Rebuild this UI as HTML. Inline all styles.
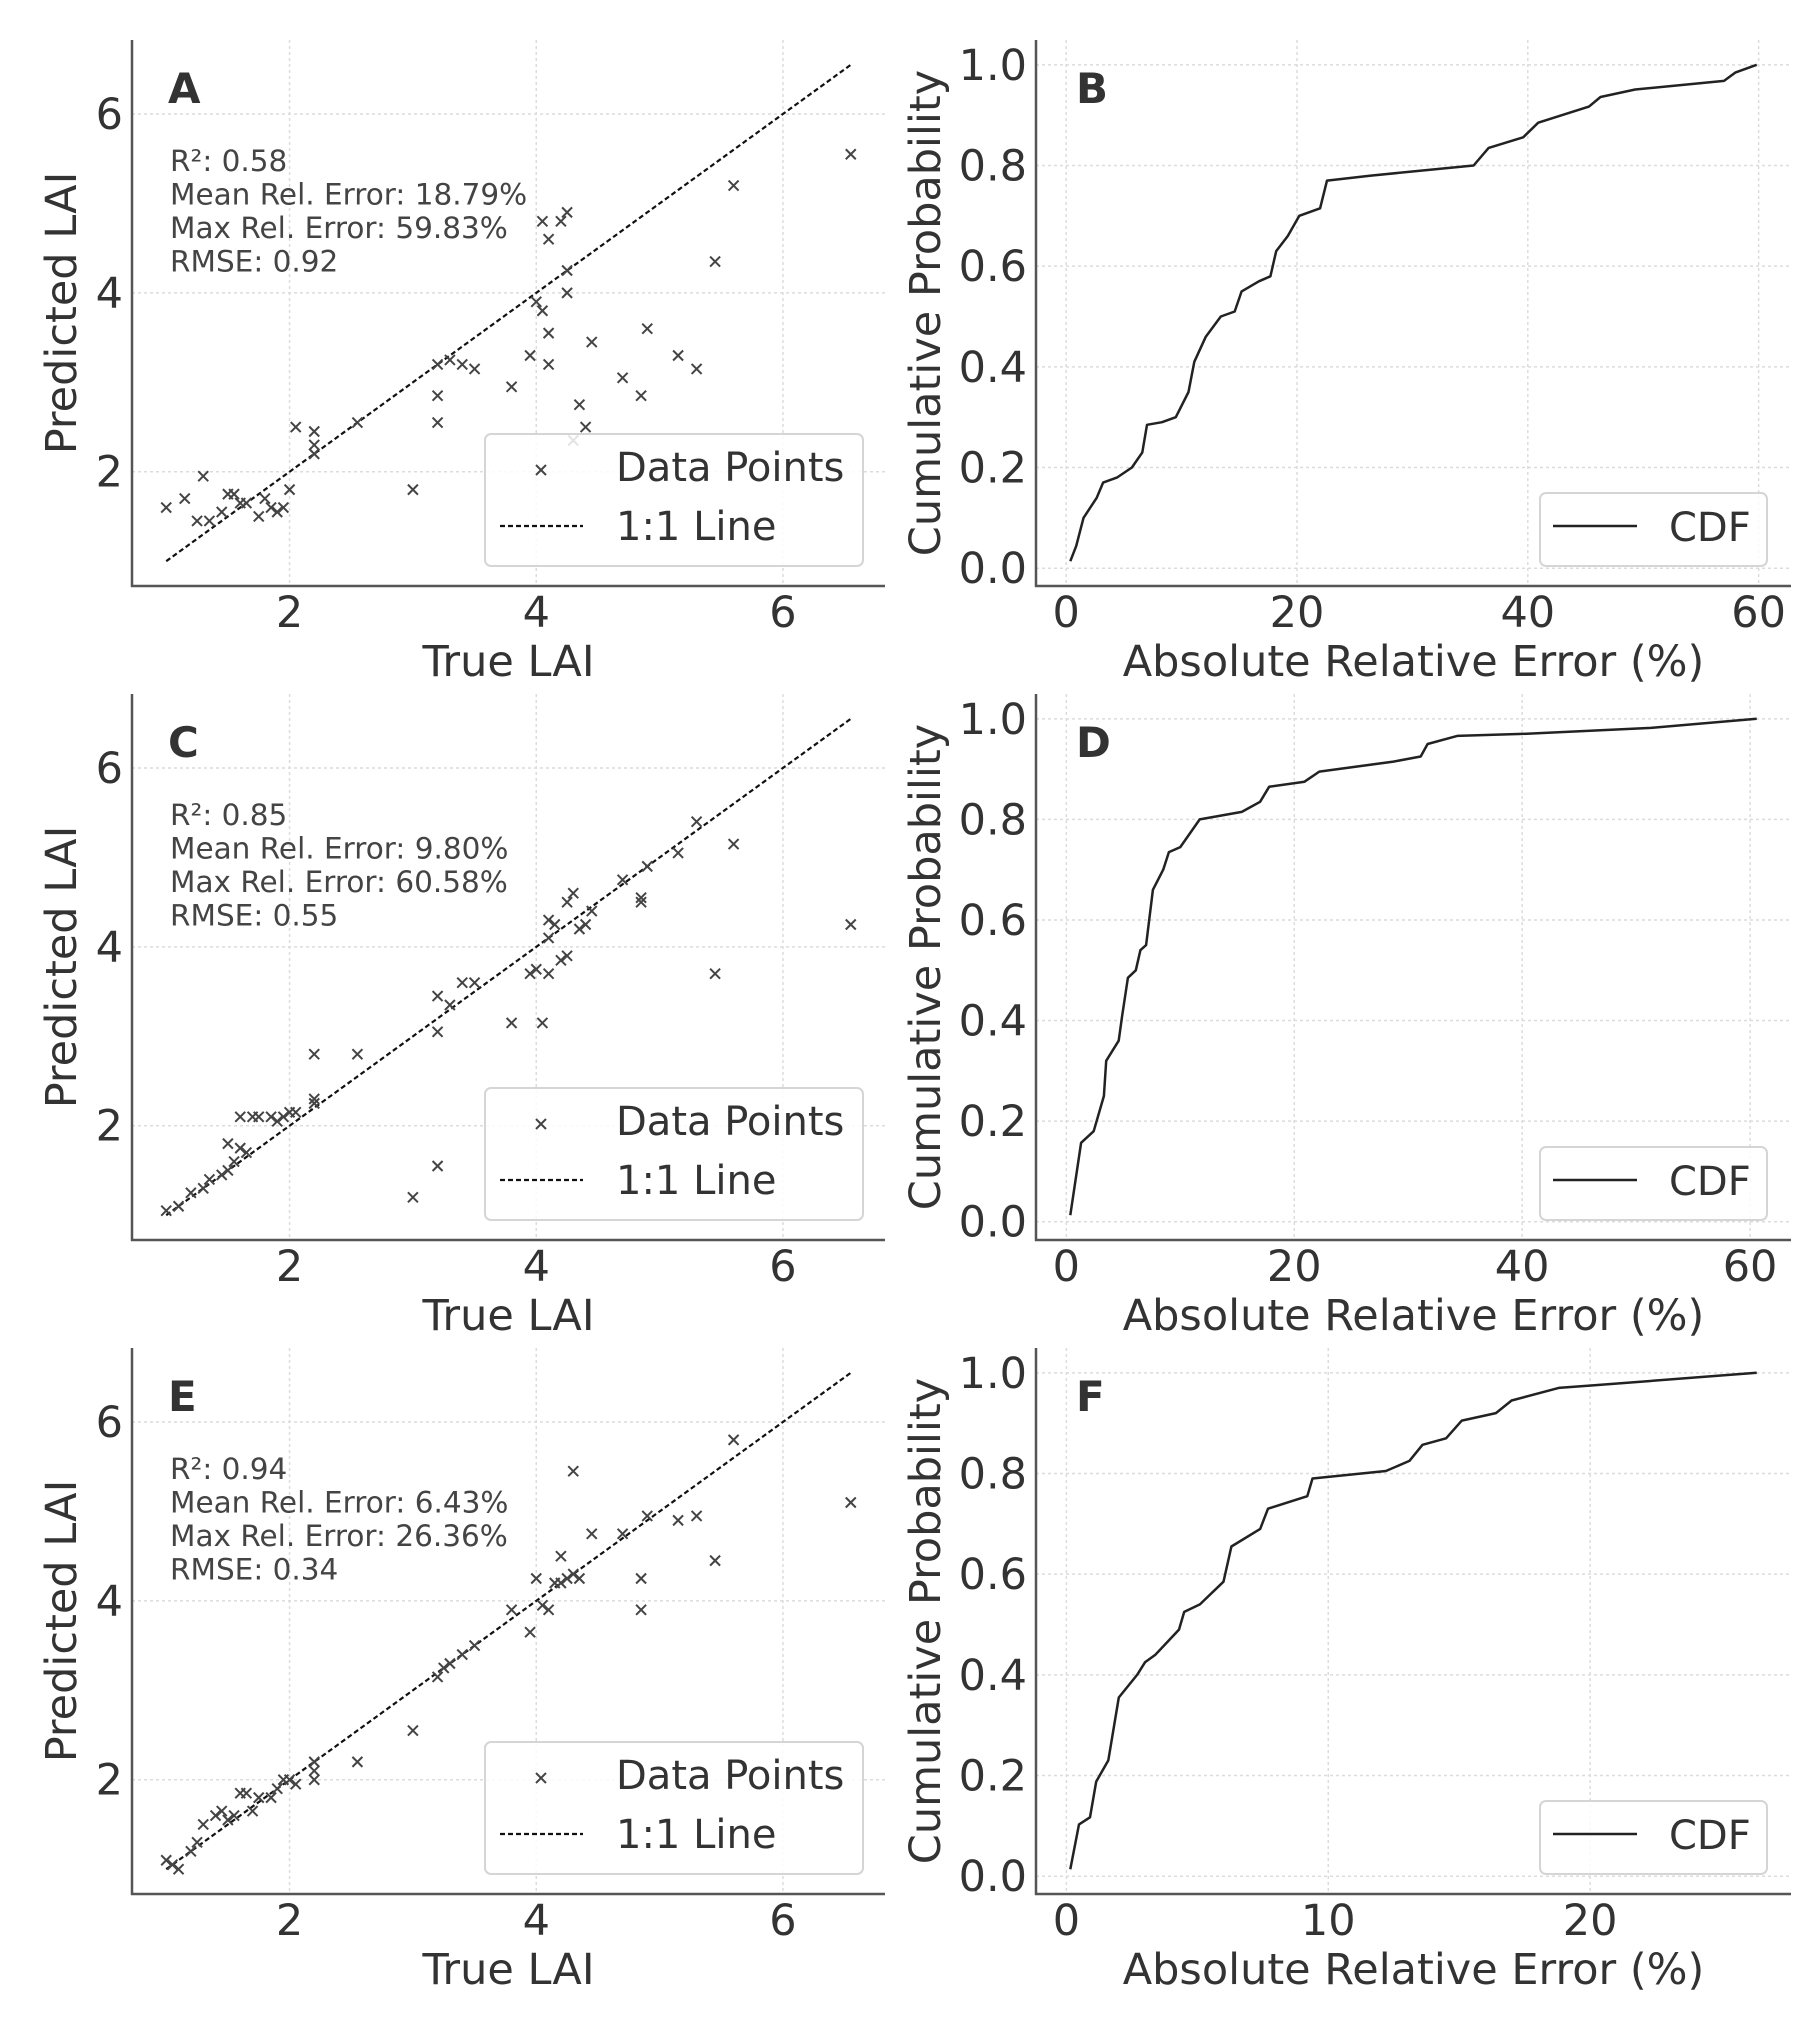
<!DOCTYPE html>
<html><head><meta charset="utf-8"><style>
html,body{margin:0;padding:0;background:#fff;}
svg{display:block;font-family:"DejaVu Sans","Liberation Sans",sans-serif;}
</style></head><body>
<svg id="fig" width="1819" height="2026" viewBox="0 0 1819 2026" xmlns="http://www.w3.org/2000/svg"></svg>
<script>
// ---- data ----
const aTrue=[1.0,1.15,1.3,1.25,1.35,1.45,1.5,1.55,1.6,1.65,1.75,1.8,1.85,1.9,1.95,2.0,2.05,2.2,2.2,2.2,2.55,3.0,3.2,3.2,3.2,3.3,3.4,3.5,3.8,3.95,4.0,4.05,4.1,4.1,4.05,4.1,4.2,4.25,4.25,4.25,4.3,4.35,4.4,4.45,4.7,4.85,4.9,5.15,5.3,5.45,5.6,6.55];
const aPred=[1.6,1.7,1.95,1.45,1.45,1.55,1.75,1.75,1.65,1.65,1.5,1.7,1.6,1.55,1.6,1.8,2.5,2.45,2.3,2.2,2.55,1.8,3.2,2.85,2.55,3.25,3.2,3.15,2.95,3.3,3.9,3.8,3.2,3.55,4.8,4.6,4.8,4.9,4.25,4.0,2.35,2.75,2.5,3.45,3.05,2.85,3.6,3.3,3.15,4.35,5.2,5.55];
const cTrue=[1.0,1.1,1.2,1.3,1.35,1.45,1.5,1.55,1.5,1.6,1.65,1.6,1.7,1.75,1.85,1.9,1.95,2.0,2.05,2.2,2.2,2.2,2.55,3.0,3.2,3.2,3.2,3.3,3.4,3.5,3.8,3.95,4.0,4.05,4.1,4.1,4.1,4.15,4.2,4.25,4.25,4.3,4.35,4.4,4.45,4.7,4.85,4.85,4.9,5.15,5.3,5.45,5.6,6.55];
const cPred=[1.05,1.1,1.25,1.3,1.4,1.45,1.5,1.6,1.8,1.75,1.7,2.1,2.1,2.1,2.1,2.05,2.1,2.15,2.15,2.25,2.3,2.8,2.8,1.2,1.55,3.05,3.45,3.35,3.6,3.6,3.15,3.7,3.75,3.15,3.7,4.1,4.3,4.25,3.85,3.9,4.5,4.6,4.2,4.25,4.4,4.75,4.5,4.55,4.9,5.05,5.4,3.7,5.15,4.25];
const eTrue=[1.0,1.05,1.1,1.2,1.25,1.3,1.4,1.45,1.5,1.55,1.6,1.65,1.7,1.75,1.85,1.9,1.95,2.0,2.05,2.2,2.2,2.2,2.55,3.0,3.2,3.25,3.3,3.4,3.5,3.8,3.95,4.0,4.05,4.1,4.15,4.2,4.25,4.3,4.3,4.35,4.2,4.45,4.7,4.85,4.85,4.9,5.15,5.3,5.45,5.6,6.55];
const ePred=[1.1,1.05,1.0,1.2,1.3,1.5,1.6,1.65,1.55,1.6,1.85,1.85,1.65,1.8,1.8,1.9,2.0,2.0,1.95,2.0,2.1,2.2,2.2,2.55,3.15,3.25,3.3,3.4,3.5,3.9,3.65,4.25,3.95,3.9,4.2,4.2,4.25,4.3,5.45,4.25,4.5,4.75,4.75,4.25,3.9,4.95,4.9,4.95,4.45,5.8,5.1];
const bErr=[0.36,0.87,1.5,2.65,3.2,4.4,5.7,6.6,7.0,8.3,9.5,10.6,11.1,12.1,13.4,14.6,15.2,16.7,17.7,18.2,19.2,20.2,22.0,22.6,26.4,35.3,36.6,39.6,40.9,45.3,46.3,49.3,57.0,58.0,59.83];
const bProb=[0.014,0.044,0.1,0.14,0.17,0.18,0.2,0.23,0.285,0.29,0.3,0.35,0.41,0.46,0.5,0.51,0.55,0.57,0.58,0.63,0.66,0.70,0.715,0.77,0.78,0.80,0.835,0.856,0.885,0.917,0.936,0.951,0.968,0.985,1.0];
const dErr=[0.35,1.3,2.4,3.3,3.5,4.6,4.9,5.4,6.1,6.5,7.0,7.6,8.5,9.0,10.0,11.7,15.4,17.0,17.8,20.9,22.2,28.7,31.1,31.7,34.3,40.0,51.3,60.58];
const dProb=[0.013,0.157,0.18,0.25,0.32,0.36,0.41,0.485,0.5,0.54,0.55,0.66,0.70,0.735,0.745,0.8,0.815,0.835,0.865,0.875,0.895,0.915,0.925,0.95,0.966,0.97,0.982,1.0];
const fErr=[0.15,0.48,0.9,1.14,1.6,2.0,2.7,3.0,3.4,4.3,4.5,5.1,6.0,6.3,7.4,7.7,9.2,9.4,12.2,13.1,13.6,14.5,15.1,16.4,17.0,18.8,20.1,26.36];
const fProb=[0.014,0.103,0.117,0.188,0.23,0.355,0.4,0.425,0.44,0.49,0.525,0.54,0.585,0.655,0.69,0.73,0.755,0.79,0.805,0.825,0.857,0.87,0.905,0.92,0.945,0.97,0.975,1.0];
const laiTicks=[2,4,6];
const probTicks=[0,0.2,0.4,0.6,0.8,1.0];
const probTickLabels=["0.0","0.2","0.4","0.6","0.8","1.0"];
const errTicks60=[0,20,40,60];
const errTicks26=[0,10,20];
const statsA=["R²: 0.58","Mean Rel. Error: 18.79%","Max Rel. Error: 59.83%","RMSE: 0.92"];
const statsC=["R²: 0.85","Mean Rel. Error: 9.80%","Max Rel. Error: 60.58%","RMSE: 0.55"];
const statsE=["R²: 0.94","Mean Rel. Error: 6.43%","Max Rel. Error: 26.36%","RMSE: 0.34"];

const NS="http://www.w3.org/2000/svg";
const svg=document.getElementById('fig');
function mk(parent,tag,attrs,text){const e=document.createElementNS(NS,tag);for(const k in attrs)e.setAttribute(k,attrs[k]);if(text!==undefined)e.textContent=text;parent.appendChild(e);return e;}
function lim(arr,arr2){let mn=Math.min(...arr),mx=Math.max(...arr);if(arr2){mn=Math.min(mn,...arr2);mx=Math.max(mx,...arr2);}const r=mx-mn;return [mn-0.05*r,mx+0.05*r];}

function grid(g,sx,sy,xt,yt,L,R,T,B){
  xt.forEach(v=>{const l=mk(g,'line',{x1:sx(v),x2:sx(v),y1:T,y2:B,stroke:'#dcdcdc','stroke-width':1.5,'stroke-dasharray':'3,3'});
    
    });
  yt.forEach(v=>{const l=mk(g,'line',{x1:L,x2:R,y1:sy(v),y2:sy(v),stroke:'#dcdcdc','stroke-width':1.5,'stroke-dasharray':'3,3'});
    
    });
}
function spines(g,L,R,T,B){
  const a=mk(g,'line',{x1:L,x2:L,y1:T,y2:B+1,stroke:'#555','stroke-width':2.5});
  
  
  const b=mk(g,'line',{x1:L-1,x2:R,y1:B,y2:B,stroke:'#555','stroke-width':2.5});
  
  
}
function ticks(g,sx,sy,xt,xl,yt,yl,L,B){
  xt.forEach((v,i)=>{const t=mk(g,'text',{x:sx(v),y:B+41,'text-anchor':'middle','font-size':43,fill:'#333'},xl[i]);
    
    });
  yt.forEach((v,i)=>{const t=mk(g,'text',{x:L-9,y:sy(v)+15,'text-anchor':'end','font-size':43,fill:'#333'},yl[i]);
    
    });
}
function labels(g,xlab,ylab,L,R,T,B,yx){
  const xl=mk(g,'text',{x:(L+R)/2,y:B+90,'text-anchor':'middle','font-size':43,fill:'#333'},xlab);
  
  
  const cy=(T+B)/2;
  const yl=mk(g,'text',{x:yx,y:cy,'text-anchor':'middle','font-size':43,fill:'#333',transform:`rotate(-90 ${yx} ${cy})`},ylab);
  
  
}
function letter(g,x,y,s){const t=mk(g,'text',{x:x,y:y,'font-size':42,'font-weight':'bold',fill:'#333'},s);
  
  }
function xmark(g,x,y,s){const p=mk(g,'path',{d:`M${x-s},${y-s}L${x+s},${y+s}M${x-s},${y+s}L${x+s},${y-s}`,stroke:'#444','stroke-width':2,fill:'none'});return p;}

function scatterPanel(oy,tv,pv,lt,stats){
  const L=132,R=885,T=40+oy,B=586+oy;
  const g=mk(svg,'g',{});
  
  
  const xl=lim(tv),yl=lim(tv,pv);
  const sx=v=>L+(v-xl[0])/(xl[1]-xl[0])*(R-L);
  const sy=v=>B-(v-yl[0])/(yl[1]-yl[0])*(B-T);
  grid(g,sx,sy,laiTicks,laiTicks,L,R,T,B);
  const mn=Math.min(...tv),mx=Math.max(...tv);
  const line=mk(g,'line',{x1:sx(mn),y1:sy(mn),x2:sx(mx),y2:sy(mx),stroke:'#111','stroke-width':2.2,'stroke-dasharray':'5,3'});
  
  
  tv.forEach((v,i)=>{const m=xmark(g,sx(v),sy(pv[i]),5);
    
    });
  spines(g,L,R,T,B);
  ticks(g,sx,sy,laiTicks,laiTicks.map(String),laiTicks,laiTicks.map(String),L,B);
  labels(g,'True LAI','Predicted LAI',L,R,T,B,76);
  letter(g,168,103+oy,lt);
  stats.forEach((s,i)=>{const t=mk(g,'text',{x:170,y:171+oy+i*33.5,'font-size':29.5,fill:'#444'},s);
    
    });
  const lg=mk(g,'g',{});
  
  
  const box=mk(lg,'rect',{x:485,y:434+oy,width:378,height:132,rx:6,fill:'rgba(255,255,255,0.85)',stroke:'#d5d5d5','stroke-width':2});
  
  
  const lm=xmark(lg,541,470+oy,5);
  
  
  const t1=mk(lg,'text',{x:616,y:481+oy,'font-size':40,fill:'#333'},'Data Points');
  
  
  const dl=mk(lg,'line',{x1:500,x2:583,y1:526+oy,y2:526+oy,stroke:'#111','stroke-width':2.2,'stroke-dasharray':'5,3'});
  
  
  const t2=mk(lg,'text',{x:616,y:540+oy,'font-size':40,fill:'#333'},'1:1 Line');
  
  
}

function cdfPanel(oy,ev,pv,xt,lt){
  const L=1036,R=1791,T=40+oy,B=586+oy;
  const g=mk(svg,'g',{});
  
  
  const xl=lim(ev),yl=lim(pv.concat([1/ev.length*0.7]));
  const sx=v=>L+(v-xl[0])/(xl[1]-xl[0])*(R-L);
  const sy=v=>B-(v-yl[0])/(yl[1]-yl[0])*(B-T);
  grid(g,sx,sy,xt,probTicks,L,R,T,B);
  const d=ev.map((v,i)=>(i?'L':'M')+sx(v).toFixed(1)+','+sy(pv[i]).toFixed(1)).join('');
  const p=mk(g,'path',{d:d,fill:'none',stroke:'#222','stroke-width':2.5,'stroke-linejoin':'round'});
  
  
  spines(g,L,R,T,B);
  ticks(g,sx,sy,xt,xt.map(String),probTicks,probTickLabels,L,B);
  labels(g,'Absolute Relative Error (%)','Cumulative Probability',L,R,T,B,940);
  letter(g,1076,103+oy,lt);
  const lg=mk(g,'g',{});
  
  
  const box=mk(lg,'rect',{x:1540,y:493+oy,width:227,height:73,rx:6,fill:'rgba(255,255,255,0.85)',stroke:'#d5d5d5','stroke-width':2});
  
  
  const ll=mk(lg,'line',{x1:1553,x2:1637,y1:526+oy,y2:526+oy,stroke:'#222','stroke-width':2.5});
  
  
  const t=mk(lg,'text',{x:1669,y:541+oy,'font-size':40,fill:'#333'},'CDF');
  
  
}

scatterPanel(0,aTrue,aPred,'A',statsA);
cdfPanel(0,bErr,bProb,errTicks60,'B');
scatterPanel(654,cTrue,cPred,'C',statsC);
cdfPanel(654,dErr,dProb,errTicks60,'D');
scatterPanel(1308,eTrue,ePred,'E',statsE);
cdfPanel(1308,fErr,fProb,errTicks26,'F');
</script>
</body></html>
